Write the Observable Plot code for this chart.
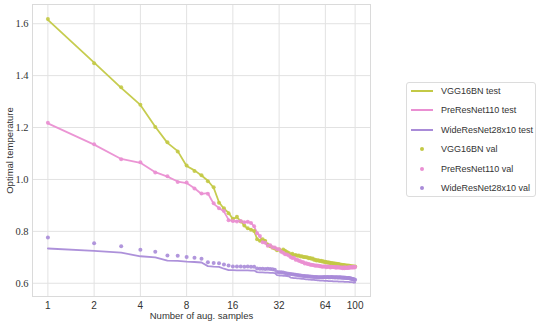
<!DOCTYPE html>
<html>
<head>
<meta charset="utf-8">
<script src="https://cdn.jsdelivr.net/npm/d3@7"></script>
<script src="https://cdn.jsdelivr.net/npm/@observablehq/plot@0.6"></script>
<style>
  html, body { margin: 0; padding: 0; background: #fff; }
  #wrap { position: relative; width: 540px; height: 325px; }
  #legend { position: absolute; left: 406px; top: 82px; width: 128px; height: 113px;
    border: 1px solid #dcdcdc; border-radius: 3px; background: #fff;
    font-family: "Liberation Sans", "DejaVu Sans", sans-serif; font-size: 9px; color: #333; }
  .row { position: absolute; left: 0; height: 14px; }
  .sw { position: absolute; left: 4px; top: 6px; width: 22px; height: 2px; }
  .dot { position: absolute; left: 13px; top: 5px; width: 4px; height: 4px; border-radius: 50%; }
  .lab { position: absolute; left: 34px; top: 0; white-space: nowrap; line-height: 14px; }
</style>
</head>
<body>
<div id="wrap"><div id="chart"></div><div id="legend"></div></div>
<script>
const samples = d3.range(1, 101);
const xTicks = [1, 2, 4, 8, 16, 32, 64, 100];
const yTicks = [0.6, 0.8, 1.0, 1.2, 1.4, 1.6];
const seriesNames = ["VGG16BN", "PreResNet110", "WideResNet28x10"];
const seriesColors = ["#c3c946", "#ea8fd2", "#a98bd8"];

const vggTest = [
  1.615,1.450,1.353,1.287,1.203,1.141,1.109,1.052,1.035,1.015,
  0.995,0.968,0.912,0.887,0.872,0.848,0.854,0.840,0.822,0.810,
  0.808,0.800,0.772,0.762,0.768,0.765,0.748,0.745,0.736,0.733,
  0.729,0.728,0.724,0.729,0.726,0.721,0.716,0.712,0.713,0.709,
  0.708,0.707,0.706,0.704,0.703,0.702,0.700,0.701,0.698,0.697,
  0.696,0.695,0.694,0.692,0.690,0.689,0.688,0.689,0.687,0.686,
  0.685,0.684,0.683,0.682,0.681,0.680,0.680,0.679,0.678,0.677,
  0.677,0.676,0.676,0.675,0.675,0.674,0.673,0.673,0.672,0.671,
  0.671,0.670,0.670,0.669,0.669,0.668,0.668,0.667,0.667,0.667,
  0.666,0.666,0.666,0.665,0.665,0.665,0.664,0.664,0.664,0.664];
const vggVal = [
  1.618,1.448,1.355,1.288,1.202,1.143,1.108,1.054,1.033,1.016,
  0.993,0.970,0.910,0.889,0.870,0.849,0.856,0.838,0.823,0.812,
  0.806,0.801,0.770,0.764,0.770,0.763,0.749,0.743,0.737,0.734,
  0.727,0.730,0.723,0.730,0.725,0.720,0.717,0.711,0.714,0.708,
  0.709,0.706,0.707,0.703,0.704,0.701,0.701,0.700,0.699,0.696,
  0.697,0.694,0.695,0.691,0.691,0.688,0.689,0.688,0.686,0.687,
  0.684,0.685,0.682,0.683,0.680,0.681,0.679,0.680,0.677,0.678,
  0.676,0.677,0.675,0.676,0.674,0.675,0.672,0.674,0.671,0.672,
  0.670,0.671,0.669,0.670,0.668,0.669,0.667,0.668,0.666,0.668,
  0.665,0.667,0.665,0.666,0.664,0.666,0.663,0.665,0.663,0.665];
const preTest = [
  1.216,1.134,1.079,1.064,1.028,1.011,0.992,0.986,0.966,0.944,
  0.947,0.906,0.890,0.876,0.845,0.838,0.840,0.838,0.836,0.835,
  0.834,0.818,0.795,0.780,0.760,0.754,0.746,0.744,0.740,0.737,
  0.733,0.730,0.722,0.716,0.713,0.710,0.708,0.700,0.698,0.697,
  0.692,0.690,0.688,0.684,0.683,0.680,0.677,0.676,0.675,0.673,
  0.672,0.670,0.671,0.668,0.668,0.667,0.668,0.666,0.667,0.665,
  0.665,0.664,0.666,0.664,0.663,0.664,0.665,0.663,0.662,0.663,
  0.664,0.662,0.663,0.662,0.661,0.662,0.660,0.661,0.662,0.660,
  0.661,0.660,0.659,0.660,0.659,0.661,0.660,0.659,0.660,0.661,
  0.660,0.661,0.662,0.661,0.662,0.661,0.662,0.663,0.662,0.662];
const preVal = [
  1.218,1.136,1.078,1.066,1.027,1.012,0.990,0.988,0.965,0.946,
  0.945,0.908,0.889,0.878,0.843,0.840,0.838,0.840,0.835,0.837,
  0.832,0.820,0.793,0.782,0.758,0.756,0.745,0.746,0.739,0.738,
  0.732,0.731,0.721,0.718,0.712,0.711,0.707,0.701,0.697,0.698,
  0.691,0.691,0.687,0.685,0.682,0.681,0.676,0.677,0.674,0.674,
  0.671,0.671,0.670,0.669,0.667,0.668,0.667,0.667,0.666,0.666,
  0.664,0.665,0.665,0.665,0.662,0.665,0.664,0.664,0.661,0.664,
  0.663,0.663,0.662,0.663,0.660,0.663,0.661,0.662,0.661,0.661,
  0.660,0.661,0.658,0.661,0.658,0.662,0.659,0.660,0.659,0.662,
  0.659,0.662,0.661,0.662,0.661,0.662,0.661,0.664,0.661,0.663];
const wideTest = [
  0.734,0.725,0.718,0.704,0.700,0.687,0.686,0.683,0.682,0.680,
  0.666,0.664,0.663,0.656,0.651,0.651,0.650,0.650,0.650,0.650,
  0.649,0.649,0.643,0.642,0.642,0.641,0.641,0.640,0.640,0.639,
  0.631,0.630,0.630,0.629,0.629,0.628,0.627,0.622,0.621,0.620,
  0.620,0.619,0.619,0.618,0.617,0.617,0.616,0.615,0.615,0.614,
  0.614,0.613,0.613,0.613,0.612,0.612,0.611,0.611,0.610,0.610,
  0.610,0.610,0.609,0.609,0.609,0.609,0.608,0.608,0.608,0.608,
  0.608,0.607,0.607,0.607,0.607,0.607,0.607,0.606,0.606,0.606,
  0.606,0.606,0.606,0.606,0.605,0.605,0.605,0.605,0.605,0.605,
  0.605,0.604,0.604,0.604,0.604,0.604,0.603,0.603,0.603,0.603];
const wideVal = [
  0.776,0.754,0.743,0.729,0.721,0.707,0.706,0.701,0.698,0.694,
  0.681,0.678,0.677,0.672,0.668,0.665,0.665,0.665,0.664,0.665,
  0.664,0.664,0.657,0.656,0.656,0.655,0.656,0.655,0.654,0.652,
  0.643,0.642,0.642,0.641,0.640,0.638,0.637,0.636,0.635,0.634,
  0.633,0.632,0.631,0.630,0.629,0.628,0.628,0.627,0.627,0.626,
  0.626,0.625,0.625,0.624,0.624,0.624,0.623,0.623,0.623,0.623,
  0.623,0.623,0.624,0.623,0.623,0.624,0.623,0.623,0.623,0.624,
  0.623,0.623,0.623,0.622,0.623,0.623,0.622,0.622,0.623,0.622,
  0.622,0.622,0.621,0.622,0.621,0.621,0.621,0.620,0.620,0.620,
  0.620,0.619,0.618,0.618,0.617,0.616,0.615,0.615,0.614,0.614];

const testSeries = [vggTest, preTest, wideTest];
const valSeries = [vggVal, preVal, wideVal];

const lineData = [], dotData = [];
seriesNames.forEach((name, i) => {
  samples.forEach((n, j) => {
    lineData.push({n, t: testSeries[i][j], s: name});
    dotData.push({n, t: valSeries[i][j], s: name});
  });
});

const sans = "'Liberation Sans', 'DejaVu Sans', sans-serif";
const serif = "'Liberation Serif', 'DejaVu Serif', serif";

const chart = Plot.plot({
  width: 540, height: 325,
  marginLeft: 32, marginRight: 170, marginTop: 4, marginBottom: 29,
  style: {background: "#fff", color: "#333"},
  x: {type: "log", base: 2, domain: [0.794, 125.9]},
  y: {domain: [0.549, 1.674]},
  color: {domain: seriesNames, range: seriesColors},
  marks: [
    Plot.gridX(xTicks, {stroke: "#e2e2e2", strokeOpacity: 1, strokeWidth: 1}),
    Plot.gridY(yTicks, {stroke: "#e2e2e2", strokeOpacity: 1, strokeWidth: 1}),
    Plot.frame({stroke: "#dadada"}),
    Plot.line(lineData, {x: "n", y: "t", z: "s", stroke: "s", strokeWidth: 1.8, strokeOpacity: 0.95}),
    Plot.dot(dotData, {x: "n", y: "t", fill: "s", r: 2, fillOpacity: 0.9}),
    Plot.axisX({ticks: xTicks, tickFormat: d => String(d), tickSize: 0, tickPadding: 5,
      fontFamily: sans, fontSize: 10, label: "Number of aug. samples", labelAnchor: "center",
      labelOffset: 22, labelArrow: "none"}),
    Plot.axisY({ticks: yTicks, tickFormat: d3.format(".1f"), tickSize: 0, tickPadding: 4,
      fontFamily: serif, fontSize: 10.5, label: "Optimal temperature", labelAnchor: "center",
      labelOffset: 26, labelArrow: "none"})
  ]
});
chart.querySelectorAll("[aria-label='x-axis label'] text, [aria-label='y-axis label'] text").forEach(t => {
  t.setAttribute("font-family", sans); t.setAttribute("font-size", "9.5");
});
document.getElementById("chart").appendChild(chart);

const legend = document.getElementById("legend");
const rows = [];
seriesNames.forEach((s, i) => rows.push({label: s + " test", color: seriesColors[i], kind: "line"}));
seriesNames.forEach((s, i) => rows.push({label: s + " val", color: seriesColors[i], kind: "dot"}));
rows.forEach((r, i) => {
  const row = document.createElement("div");
  row.className = "row";
  row.style.top = (1 + i * 19.4) + "px";
  const sw = document.createElement("div");
  sw.className = r.kind === "line" ? "sw" : "dot";
  sw.style.background = r.color;
  const lab = document.createElement("div");
  lab.className = "lab";
  lab.textContent = r.label;
  row.appendChild(sw); row.appendChild(lab);
  legend.appendChild(row);
});
</script>
</body>
</html>
